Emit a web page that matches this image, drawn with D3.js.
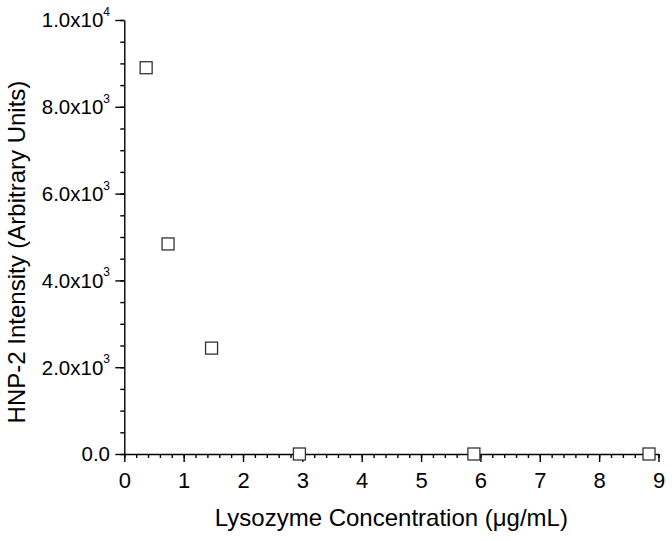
<!DOCTYPE html>
<html>
<head>
<meta charset="utf-8">
<script src="https://cdn.jsdelivr.net/npm/d3@7"></script>
<style>
  html, body { margin: 0; padding: 0; background: #fff; }
  svg { display: block; }
  text { font-family: "Liberation Sans", Arial, sans-serif; fill: #000; }
</style>
</head>
<body>
<svg id="chart" width="672" height="541"></svg>
<script>
// Data
const concentration = [0.368, 0.737, 1.47, 2.95, 5.89, 8.84];
const intensity = [8900, 4840, 2440, 0, 0, 0];
const xTickValues = [0, 1, 2, 3, 4, 5, 6, 7, 8, 9];
const yTickValues = [0, 2000, 4000, 6000, 8000, 10000];
const yTickMantissa = ["0.0", "2.0x10", "4.0x10", "6.0x10", "8.0x10", "1.0x10"];
const yTickExponent = ["", "3", "3", "3", "3", "4"];
const xTitle = "Lysozyme Concentration (\u03BCg/mL)";
const yTitle = "HNP-2 Intensity (Arbitrary Units)";

const svg = d3.select("#chart");
const x = d3.scaleLinear().domain([0, 9]).range([124.3, 658.5]);
const y = d3.scaleLinear().domain([0, 10000]).range([454, 20]);

// X axis
const xMinor = d3.range(0, 9.0001, 0.2).map(v => +v.toFixed(1));
const gx = svg.append("g").attr("transform", `translate(0,${y(0)})`);
gx.call(d3.axisBottom(x).tickValues(xMinor).tickSize(4).tickFormat(""))
  .call(g => g.select(".domain").remove())
  .call(g => g.selectAll("line").attr("stroke", "#000").attr("stroke-width", 1.4));
gx.append("g").call(d3.axisBottom(x).tickValues(xTickValues).tickSize(8).tickSizeOuter(0).tickPadding(6))
  .call(g => g.select(".domain").attr("stroke", "#000").attr("stroke-width", 1.4))
  .call(g => g.selectAll("line").attr("stroke", "#000").attr("stroke-width", 1.4))
  .call(g => g.selectAll("text").attr("font-size", 22).attr("font-family", "Liberation Sans, Arial, sans-serif").attr("fill", "#000").attr("dy", "0.9em"));

// Y axis
const yMinor = d3.range(0, 10001, 500);
const gy = svg.append("g").attr("transform", `translate(${x(0)},0)`);
gy.call(d3.axisLeft(y).tickValues(yMinor).tickSize(4).tickFormat(""))
  .call(g => g.select(".domain").remove())
  .call(g => g.selectAll("line").attr("stroke", "#000").attr("stroke-width", 1.4));
gy.append("g").call(d3.axisLeft(y).tickValues(yTickValues).tickSize(9).tickSizeOuter(0).tickFormat(""))
  .call(g => g.select(".domain").attr("stroke", "#000").attr("stroke-width", 1.4))
  .call(g => g.selectAll("line").attr("stroke", "#000").attr("stroke-width", 1.4));

// Y tick labels with superscripts
const yl = svg.append("g");
yTickValues.forEach((v, i) => {
  const t = yl.append("text")
    .attr("x", 110)
    .attr("y", y(v))
    .attr("dy", "0.36em")
    .attr("text-anchor", "end")
    .attr("font-size", 20.5);
  t.append("tspan").text(yTickMantissa[i]);
  if (yTickExponent[i]) {
    t.append("tspan").attr("font-size", 12).attr("dy", "-0.95em").text(yTickExponent[i]);
  }
});

// Axis titles
svg.append("text")
  .attr("x", (x(0) + x(9)) / 2)
  .attr("y", 526)
  .attr("text-anchor", "middle")
  .attr("font-size", 24)
  .text(xTitle);

svg.append("text")
  .attr("transform", "translate(25,252) rotate(-90)")
  .attr("text-anchor", "middle")
  .attr("font-size", 24)
  .text(yTitle);

// Points
const s = 12;
svg.append("g").selectAll("rect")
  .data(concentration.map((c, i) => ({c, v: intensity[i]})))
  .join("rect")
  .attr("x", d => x(d.c) - s / 2)
  .attr("y", d => y(d.v) - s / 2)
  .attr("width", s)
  .attr("height", s)
  .attr("fill", "#fff")
  .attr("stroke", "#333")
  .attr("stroke-width", 1.3);
</script>
</body>
</html>
